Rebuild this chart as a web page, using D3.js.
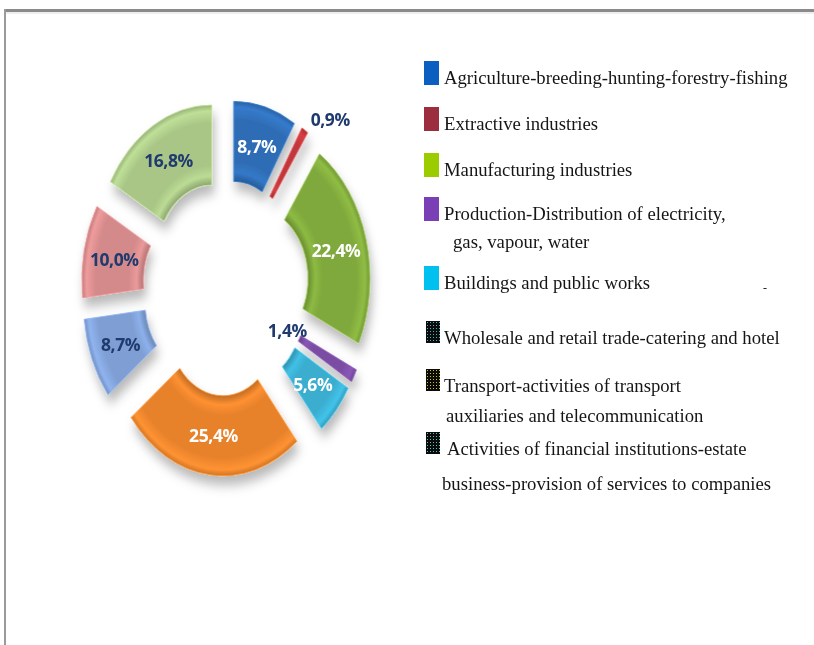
<!DOCTYPE html>
<html>
<head>
<meta charset="utf-8">
<script src="https://cdn.jsdelivr.net/npm/d3@7"></script>
<style>
  body { margin: 0; background: #fff; }
  svg { display: block; }
</style>
</head>
<body>
<div id="chart"></div>
<script>
// --- data ---
const sectors = [
  "Agriculture-breeding-hunting-forestry-fishing",
  "Extractive industries",
  "Manufacturing industries",
  "Production-Distribution of electricity,|gas, vapour, water",
  "Buildings and public works",
  "Wholesale and retail trade-catering and hotel",
  "Transport-activities of transport|auxiliaries and telecommunication",
  "Activities of financial institutions-estate|business-provision of services to companies"
];
const sliceLabels = ["8,7%", "0,9%", "22,4%", "1,4%", "5,6%", "25,4%", "8,7%", "10,0%", "16,8%"];
const shares = [8.7, 0.9, 22.4, 1.4, 5.6, 25.4, 8.7, 10.0, 16.8];
const sliceColors = ["#2f6db5", "#c0373a", "#7fa83c", "#7a4ea3", "#3aadcf", "#e8822c", "#7f9fd4", "#d48a8b", "#a9c686"];
const labelColors = ["#ffffff", "#1f3a6e", "#ffffff", "#1f3a6e", "#ffffff", "#ffffff", "#1f3a6e", "#1f3a6e", "#1f3a6e"];
const legendColors = ["#0a5fc0", "#9b2d3f", "#9bcc00", "#7a3fb5", "#00c0f0", "#3bb7c9", "#d6c400", "#4fc9c0"];

const W = 814, H = 645;
const svg = d3.select("#chart").append("svg").attr("width", W).attr("height", H);
const defs = svg.append("defs");

// frame
svg.append("rect").attr("x", 4).attr("y", 9).attr("width", W - 4).attr("height", 3).attr("fill", "#8a8a8a");
svg.append("rect").attr("x", 4).attr("y", 12).attr("width", W - 4).attr("height", 2).attr("fill", "#eeeeee");
svg.append("rect").attr("x", 4).attr("y", 9).attr("width", 2).attr("height", H - 9).attr("fill", "#9a9a9a");

// --- donut (every slice exploded) ---
const cx = 226, cy = 288, sx = 0.77;
const outerR = 151, innerR = 71, explode = 37;

const shadow = defs.append("filter").attr("id", "shadow")
  .attr("x", "-30%").attr("y", "-30%").attr("width", "160%").attr("height", "160%");
shadow.append("feDropShadow").attr("dx", 3).attr("dy", 9).attr("stdDeviation", 6)
  .attr("flood-color", "#000").attr("flood-opacity", 0.28);

const pie = d3.pie().sort(null).value(d => d);
const arcs = pie(shares);
const arc = d3.arc().innerRadius(innerR).outerRadius(outerR);

arcs.forEach((a, i) => {
  const base = d3.color(sliceColors[i]);
  const g = defs.append("radialGradient").attr("id", "grad" + i)
    .attr("gradientUnits", "userSpaceOnUse").attr("cx", 0).attr("cy", 0).attr("r", outerR);
  const f = innerR / outerR;
  g.append("stop").attr("offset", f).attr("stop-color", base.darker(0.5));
  g.append("stop").attr("offset", f + 0.06).attr("stop-color", base.brighter(0.3));
  g.append("stop").attr("offset", f + 0.13).attr("stop-color", base);
  g.append("stop").attr("offset", 0.88).attr("stop-color", base);
  g.append("stop").attr("offset", 0.96).attr("stop-color", base.brighter(0.35));
  g.append("stop").attr("offset", 1).attr("stop-color", base.darker(0.3));
});

const donut = svg.append("g")
  .attr("transform", `translate(${cx},${cy}) scale(${sx},1)`)
  .attr("filter", "url(#shadow)");

function offset(a, r) {
  const m = (a.startAngle + a.endAngle) / 2;
  return [Math.sin(m) * r, -Math.cos(m) * r];
}

donut.selectAll("path")
  .data(arcs)
  .join("path")
  .attr("transform", d => { const [x, y] = offset(d, explode); return `translate(${x},${y})`; })
  .attr("d", arc)
  .attr("fill", (d, i) => `url(#grad${i})`)
  .attr("stroke", (d, i) => d3.color(sliceColors[i]).brighter(0.4))
  .attr("stroke-width", 1);

// slice labels: small slices go outside in the upper half, inside in the lower half
const midR = (innerR + outerR) / 2 + explode;
svg.append("g").selectAll("text")
  .data(arcs)
  .join("text")
  .each(function (d, i) {
    const small = d.value < 2;
    const m = (d.startAngle + d.endAngle) / 2;
    let r = midR, anchor = "middle";
    if (small && Math.cos(m) > 0) { r = 202; anchor = "start"; }
    else if (small) { r = 90; }
    const [x, y] = offset(d, r);
    d3.select(this)
      .attr("x", cx + x * sx)
      .attr("y", cy + y)
      .attr("text-anchor", anchor)
      .attr("dominant-baseline", "central")
      .attr("fill", labelColors[i])
      .text(sliceLabels[i]);
  })
  .attr("font-family", "'Open Sans', sans-serif")
  .attr("font-weight", 700)
  .attr("font-size", 17.5)
  .attr("letter-spacing", -0.4);

// --- legend ---
const patterns = legendColors.slice(5).map((c, k) => {
  const id = "pat" + k;
  const p = defs.append("pattern").attr("id", id).attr("patternUnits", "userSpaceOnUse")
    .attr("width", 3).attr("height", 3);
  p.append("rect").attr("width", 3).attr("height", 3).attr("fill", "#0b0b0b");
  p.append("rect").attr("x", 1).attr("y", 1).attr("width", 1).attr("height", 1).attr("fill", c);
  return id;
});

const rowBaselines = [84, 130, 176, 220, 289, 344, 392, 455];
const legend = svg.append("g")
  .attr("font-family", "'Liberation Serif', 'Times New Roman', serif")
  .attr("font-size", 18.7)
  .attr("fill", "#151515");

sectors.forEach((name, i) => {
  const yb = rowBaselines[i];
  const patterned = i >= 5;
  legend.append("rect")
    .attr("x", patterned ? 426 : 424)
    .attr("y", yb - 23)
    .attr("width", patterned ? 14 : 15)
    .attr("height", patterned ? 22 : 24)
    .attr("fill", patterned ? `url(#${patterns[i - 5]})` : legendColors[i]);
  const lines = name.split("|");
  legend.append("text").attr("x", i === 7 ? 447 : 444).attr("y", yb).text(lines[0]);
  if (lines[1]) {
    const second = { 3: [453, 248], 6: [446, 422], 7: [442, 490] }[i];
    legend.append("text").attr("x", second[0]).attr("y", second[1]).text(lines[1]);
  }
});

// stray mark at the right of the legend
legend.append("text").attr("x", 763).attr("y", 292).attr("font-size", 12).text("-");
</script>
</body>
</html>
